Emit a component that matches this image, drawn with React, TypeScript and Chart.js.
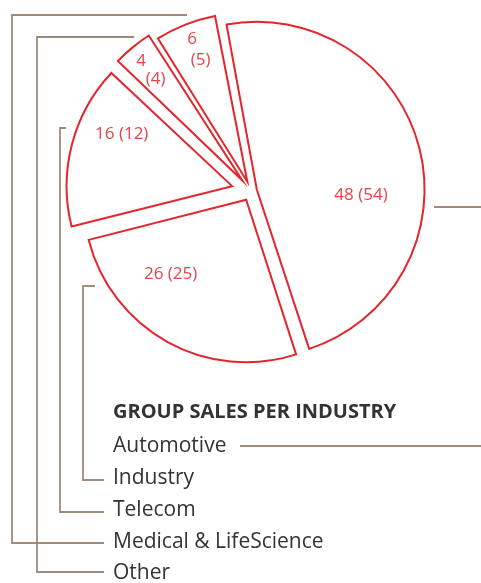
import React, { useEffect, useRef } from "react";
import { Chart, registerables } from "chart.js";

Chart.register(...registerables);

// ---- data ----
const categories = ["Automotive", "Industry", "Telecom", "Medical & LifeScience", "Other"];
const salesShare = [48, 26, 16, 4, 6];
const salesSharePrev = [54, 25, 12, 4, 5];
const chartTitle = "GROUP SALES PER INDUSTRY";

// ---- styles ----
const RED = "#e4252c";
const LABEL_RED = "#e8434a";
const BROWN = "#9f8b7a";
const TEXT = "#333333";
const FONT = "'Open Sans', sans-serif";
const sliceOffsets = [24, 40, 78, 54, 40];
// label placement relative to chart centre: distance (px), angle shift (deg), two lines?
const labelDist = [110.1, 115.5, 141.1, 158.6, 151.6];
const labelShift = [16.6, 15.2, 9.1, -0.8, 0.4];
const labelSplit = [false, false, false, true, true];

// legend layout
const legendX = 113;
const titleY = 412;
const legendRowY = [446, 478, 510, 542, 573];
// connector paths (decoration)
const connectors: number[][][] = [
  [[434, 207], [490, 207]],
  [[240, 446], [490, 446]],
  [[95, 286], [83, 286], [83, 480], [104, 480]],
  [[66, 128], [60, 128], [60, 512], [104, 512]],
  [[187, 15], [12, 15], [12, 543], [104, 543]],
  [[134, 37], [37, 37], [37, 572], [104, 572]],
];

const decorPlugin = {
  id: "decor",
  afterDatasetsDraw(chart: any) {
    const ctx = chart.ctx as CanvasRenderingContext2D;
    const meta = chart.getDatasetMeta(0);
    ctx.save();
    ctx.fillStyle = LABEL_RED;
    ctx.font = `17px ${FONT}`;
    ctx.textAlign = "center";
    ctx.textBaseline = "middle";
    meta.data.forEach((arc: any, i: number) => {
      const mid0 = (arc.startAngle + arc.endAngle) / 2;
      const mid = mid0 + (labelShift[i] * Math.PI) / 180;
      const px = arc.x + Math.cos(mid) * labelDist[i];
      const py = arc.y + Math.sin(mid) * labelDist[i];
      const cur = String(salesShare[i]);
      const prev = `(${salesSharePrev[i]})`;
      if (labelSplit[i]) {
        const h = 11.5;
        ctx.fillText(cur, px + Math.cos(mid0) * h, py + Math.sin(mid0) * h);
        ctx.fillText(prev, px - Math.cos(mid0) * h, py - Math.sin(mid0) * h);
      } else {
        ctx.fillText(`${cur} ${prev}`, px, py);
      }
    });
    ctx.restore();
  },
  afterDraw(chart: any) {
    const ctx = chart.ctx as CanvasRenderingContext2D;
    ctx.save();
    ctx.strokeStyle = BROWN;
    ctx.lineWidth = 1.8;
    connectors.forEach((path) => {
      ctx.beginPath();
      path.forEach(([x, y], j) => (j === 0 ? ctx.moveTo(x, y) : ctx.lineTo(x, y)));
      ctx.stroke();
    });
    ctx.fillStyle = TEXT;
    ctx.textAlign = "left";
    ctx.textBaseline = "middle";
    ctx.font = `bold 20px ${FONT}`;
    ctx.fillText(chartTitle, legendX, titleY);
    ctx.font = `21px ${FONT}`;
    categories.forEach((c, i) => {
      ctx.fillText(c, legendX, legendRowY[i]);
    });
    ctx.restore();
  },
};

export default function App() {
  const ref = useRef<HTMLCanvasElement | null>(null);
  useEffect(() => {
    if (!ref.current) return;
    const chart = new Chart(ref.current, {
      type: "pie",
      data: {
        labels: categories,
        datasets: [
          {
            data: salesShare,
            backgroundColor: "#ffffff",
            borderColor: RED,
            borderWidth: 2,
            borderJoinStyle: "miter",
            offset: sliceOffsets,
            radius: 162.5,
          } as any,
        ],
      },
      options: {
        responsive: false,
        animation: false,
        rotation: -10.7,
        layout: { padding: { left: 21, right: 0, top: 0, bottom: 201 } },
        plugins: {
          legend: { display: false },
          title: { display: false },
          tooltip: { enabled: false },
        },
        events: [],
      },
      plugins: [decorPlugin],
    });
    return () => chart.destroy();
  }, []);
  return (
    <canvas
      ref={ref}
      width={481}
      height={583}
      style={{ position: "fixed", left: 0, top: 0, width: 481, height: 583, background: "#fff" }}
    />
  );
}
